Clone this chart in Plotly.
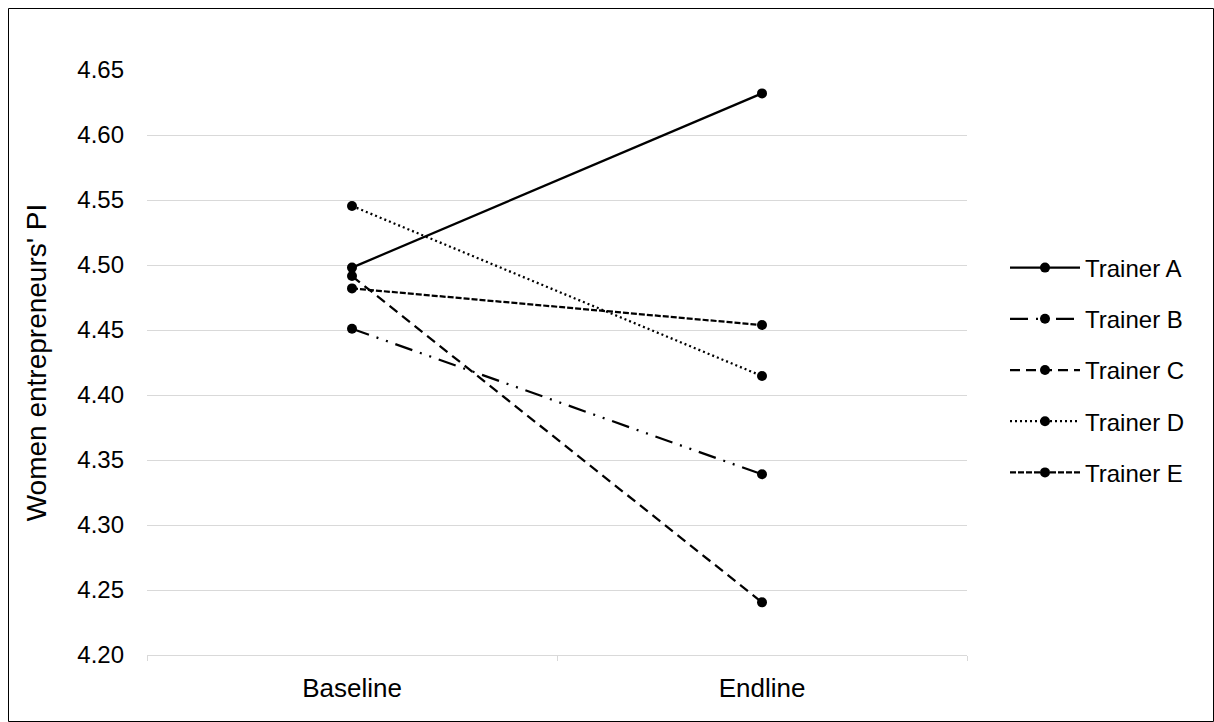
import plotly.graph_objects as go

periods = ["Baseline", "Endline"]
trainers = ["Trainer A", "Trainer B", "Trainer C", "Trainer D", "Trainer E"]
trainer_a = [4.498, 4.632]
trainer_b = [4.451, 4.339]
trainer_c = [4.4915, 4.2405]
trainer_d = [4.5454, 4.4146]
trainer_e = [4.482, 4.4538]
y_ticks = [4.20, 4.25, 4.30, 4.35, 4.40, 4.45, 4.50, 4.55, 4.60, 4.65]

series = [trainer_a, trainer_b, trainer_c, trainer_d, trainer_e]
dashes = ["solid", "18px,8px,2px,8px,2px,8px", "10px,6px", "2px,3px", "6px,2px"]

W, H = 1214, 722
L, R, T, B = 147, 247, 70, 67
FONT = "Liberation Sans, Arial, sans-serif"

fig = go.Figure()
for name, vals, dash in zip(trainers, series, dashes):
    fig.add_trace(go.Scatter(
        x=periods, y=vals, name=name, mode="lines+markers",
        legendgroup=name,
        line=dict(color="black", width=2.25, dash=dash),
        marker=dict(color="black", size=10, symbol="circle"),
    ))

pw = W - L - R
ph = H - T - B
def px_x(x):
    return (x - L) / pw
def px_y(y):
    return (H - B - y) / ph

fig.add_shape(type="rect", xref="paper", yref="paper",
              x0=px_x(8.5), x1=px_x(1213.5), y0=px_y(721.5), y1=px_y(8.5),
              line=dict(color="black", width=1), fillcolor="rgba(0,0,0,0)", layer="above")

fig.update_layout(
    width=W, height=H,
    margin=dict(l=L, r=R, t=T, b=B, autoexpand=False),
    paper_bgcolor="white", plot_bgcolor="white",
    font=dict(family=FONT, size=24, color="black"),
    showlegend=True,
    legend=dict(x=px_x(1005), y=px_y(370), xanchor="left", yanchor="middle",
                itemwidth=70, tracegroupgap=17, font=dict(size=24, family=FONT),
                bgcolor="rgba(0,0,0,0)"),
    xaxis=dict(type="category", tickson="boundaries", ticks="outside", ticklen=5,
               tickcolor="#d9d9d9", showline=True, linecolor="#d9d9d9", linewidth=1,
               showgrid=False, zeroline=False, ticklabelstandoff=10,
               tickfont=dict(size=26, family=FONT), range=[-0.5, 1.5]),
    yaxis=dict(range=[4.20, 4.65], tickvals=y_ticks, tickformat=".2f",
               showgrid=True, gridcolor="#d9d9d9", gridwidth=1, zeroline=False,
               showline=False, ticks="", ticklabelstandoff=22,
               tickfont=dict(size=24, family=FONT),
               title=dict(text="Women entrepreneurs' PI", font=dict(size=28, family=FONT), standoff=22)),
)

fig.write_html("out.html")
